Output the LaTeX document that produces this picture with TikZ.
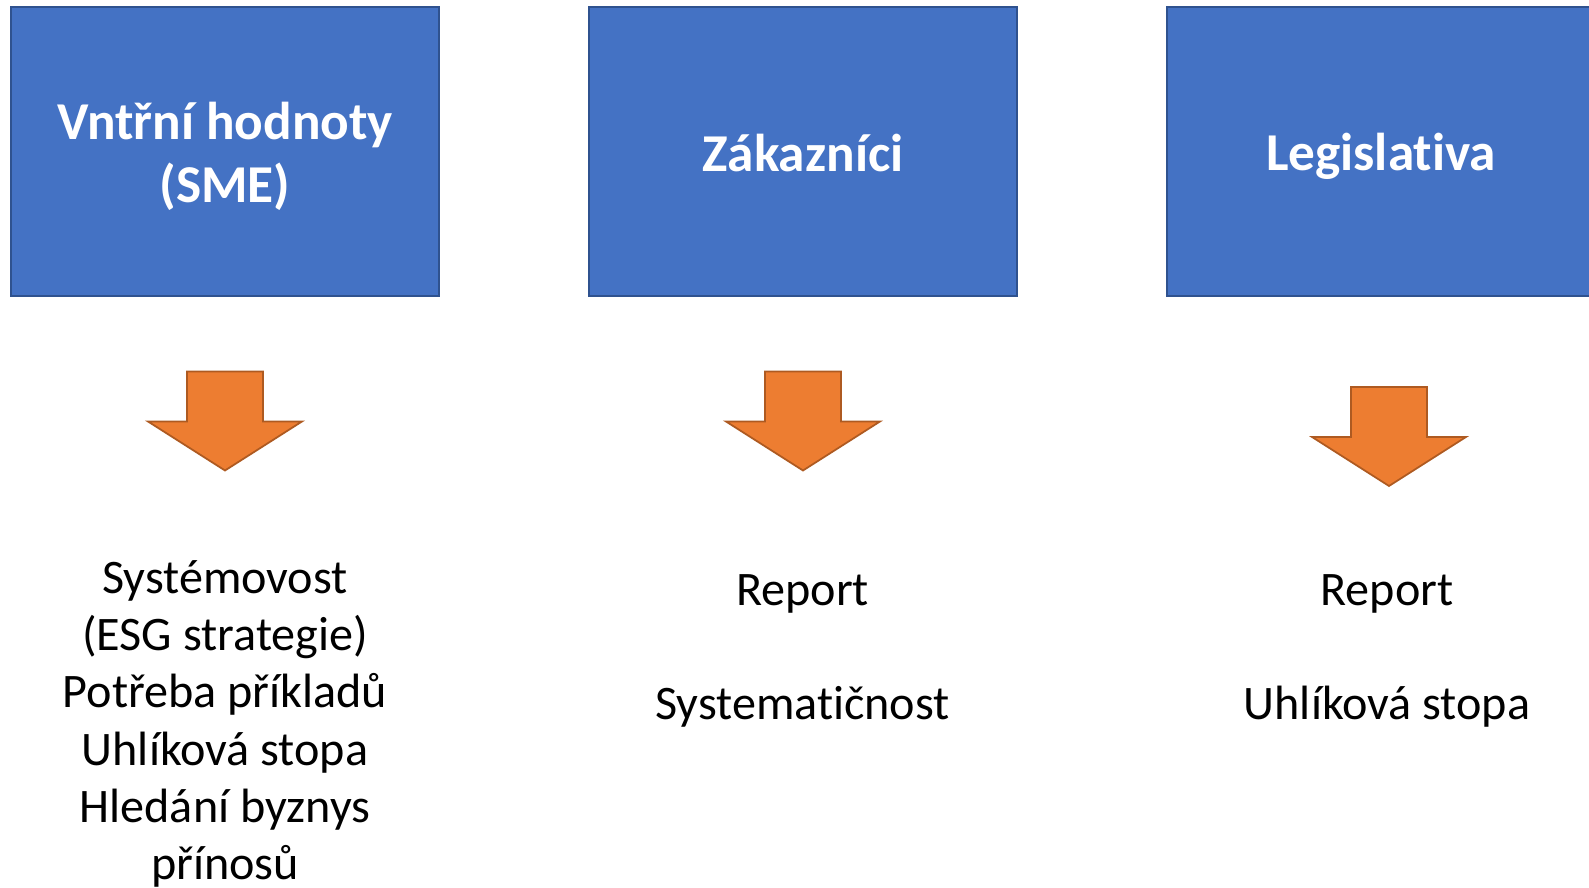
\documentclass[tikz,border=0pt]{standalone}
\usepackage{fontspec}
\setmainfont{Carlito}[RawFeature={-liga;-clig;-calt;-dlig}]
\usetikzlibrary{positioning}

\definecolor{boxblue}{HTML}{4472C4}
\definecolor{boxedge}{HTML}{2F528F}
\definecolor{arrfill}{HTML}{ED7D31}
\definecolor{arredge}{HTML}{AE5A21}

\tikzset{topbox/.style={rectangle,draw=boxedge,fill=boxblue,line width=1pt,
    minimum width=8.56cm,minimum height=5.78cm,inner sep=0pt,outer sep=0pt,
    text=white,align=center,font=\fontsize{30.3}{36}\selectfont\bfseries},
  itemtext/.style={align=center,inner sep=0pt,font=\fontsize{27.4}{32.6}\selectfont},
  downarrow/.pic={\draw[draw=arredge,fill=arrfill,line width=1pt]
    (0,0) -- ++(-1.54,0.98) -- ++(0.78,0) -- ++(0,1) -- ++(1.52,0)
    -- ++(0,-1) -- ++(0.78,0) -- cycle;}}

\begin{document}
\begin{tikzpicture}
 		\useasboundingbox (0,0) rectangle (31.78,17.76);

 		\node[topbox] (b1) at (4.5,14.73) {\raisebox{-0.14cm}[\height][\depth]{\begin{tabular}{@{}c@{}}Vntřní hodnoty\\(SME)\end{tabular}}};
 		\node[topbox,right=3cm of b1] (b2) {\raisebox{-0.04cm}[\height][\depth]{Zákazníci}};
 		\node[topbox,right=3cm of b2] (b3) {\raisebox{-0.1cm}[\height][\depth]{Legislativa}};

 		\coordinate[below=3.49cm of b1] (t1);
 		\coordinate[below=3.49cm of b2] (t2);
 		\coordinate[below=3.8cm of b3,xshift=0.16cm] (t3);

 		\pic at (t1) {downarrow};
 		\pic at (t2) {downarrow};
 		\pic at (t3) {downarrow};

 		\node[itemtext] (l1) at (4.5,3.28) {Systémovost\\(ESG strategie)\\Potřeba příkladů\\Uhlíková stopa\\Hledání byznys\\přínosů};
 		\node[itemtext] (l2) at (16.05,4.74) {Report\\ \\Systematičnost};
 		\node[itemtext] (l3) at (27.74,4.74) {Report\\ \\Uhlíková stopa};
\end{tikzpicture}
\end{document}
